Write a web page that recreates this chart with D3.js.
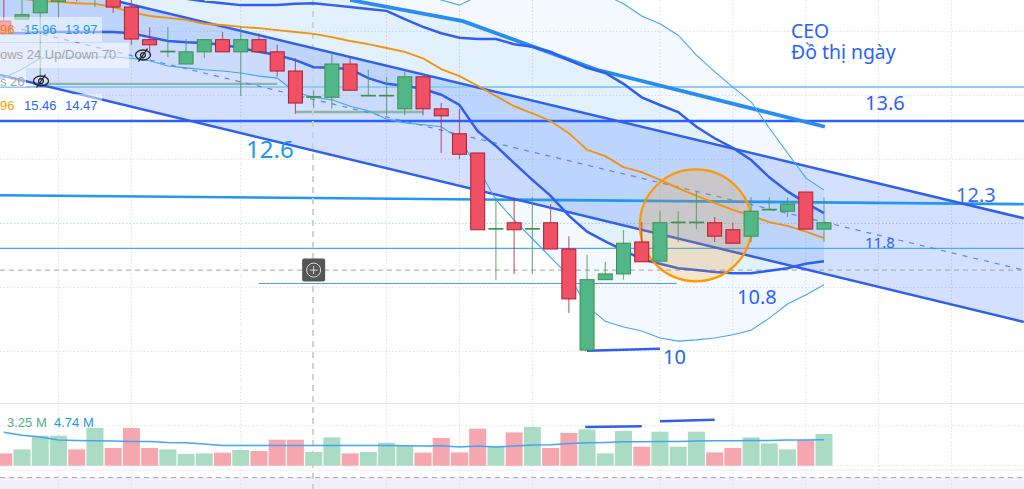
<!DOCTYPE html>
<html><head><meta charset="utf-8">
<script src="https://cdnjs.cloudflare.com/ajax/libs/d3/7.8.5/d3.min.js"></script>
<style>html,body{margin:0;padding:0;background:#fff;overflow:hidden}svg{display:block}</style>
</head><body><svg id="c" width="1024" height="489"></svg>
<script>
// ---------- data ----------
const open  = [15.16,15.19,15.29,15.47,15.72,15.60,15.65,15.38,14.87,14.68,14.49,14.68,14.87,14.68,14.87,14.68,14.38,13.97,13.97,14.49,13.99,13.99,13.79,14.29,13.79,13.40,13.10,11.91,12.01,11.91,12.01,11.60,10.02,11.12,11.21,11.71,11.41,12.01,12.01,12.01,11.90,11.80,12.21,12.19,12.49,11.91];
const high  = [15.49,15.54,15.60,15.72,15.80,15.85,15.72,15.49,15.07,15.07,14.88,14.87,14.99,15.07,14.97,14.79,14.58,14.08,14.66,14.60,14.40,14.29,14.38,14.29,13.88,13.79,13.10,12.41,12.41,12.41,12.30,11.80,11.51,11.40,11.90,12.02,12.19,12.19,12.49,12.10,12.01,12.41,12.41,12.41,12.49,12.41];
const low   = [14.97,15.19,14.24,15.21,15.47,15.38,15.29,14.79,14.68,14.60,14.49,14.58,14.68,13.99,14.68,14.29,13.71,13.80,13.79,14.08,13.99,13.69,13.69,13.69,13.10,13.01,11.90,11.12,11.21,11.21,11.60,10.60,10.02,11.12,11.12,11.40,11.41,11.71,11.91,11.71,11.69,11.71,12.21,12.10,11.91,11.71];
const close = [14.97,15.26,15.57,15.65,15.62,15.80,15.38,14.88,14.79,14.69,14.68,14.87,14.68,14.87,14.68,14.38,13.88,13.98,14.49,14.08,14.00,14.00,14.29,13.79,13.68,13.08,11.90,11.92,11.90,11.92,11.60,10.82,11.12,11.21,11.69,11.40,12.01,12.02,12.02,11.80,11.69,12.19,12.22,12.30,11.91,12.01];
const volume = [2.46,3.26,6,6,3.26,7.54,3.54,7.54,3.54,3.26,2.34,2.46,2.6,3.14,2.94,5.2,5.2,2.74,5.66,2.46,2.74,4.6,3.94,2.6,5.54,2.66,7.4,3.86,6.66,7.74,3.54,6.54,7.26,2.46,6.94,3.8,6.8,3.8,6.8,2.66,3.54,5.66,4.46,3.26,5.14,6.34];
const volumeMA = [6.67,6.07,5.73,5.14,5.06,5.0,4.94,4.86,4.86,4.66,4.6,4.34,4.06,4.06,4.06,4.06,4.06,4.06,4.06,4.06,4.06,4.06,4.0,3.94,4.0,3.74,3.94,3.74,3.94,4.14,4.2,4.46,4.6,4.66,4.8,4.8,4.86,4.86,4.94,5.0,5.0,5.06,5.06,5.14,5.14,5.2];
const maMid = [14.97,14.97,14.99,14.99,14.99,14.99,14.99,14.97,14.91,14.85,14.83,14.82,14.79,14.74,14.68,14.63,14.55,14.44,14.43,14.41,14.27,14.18,14.15,14.10,14.01,13.85,13.44,13.21,12.94,12.68,12.43,12.12,11.87,11.72,11.58,11.44,11.37,11.30,11.27,11.24,11.22,11.22,11.26,11.30,11.37,11.41];
const maHigh = [15.68,15.66,15.65,15.63,15.62,15.60,15.58,15.57,15.55,15.54,15.51,15.47,15.44,15.41,15.41,15.41,15.43,15.44,15.41,15.38,15.35,15.32,15.19,15.07,14.97,14.90,14.88,14.88,14.80,14.76,14.68,14.55,14.43,14.35,14.18,13.97,13.85,13.74,13.51,13.33,13.18,12.99,12.72,12.50,12.32,12.16];
const innerTop = [15.96,15.96,15.96,15.96,15.96,15.96,15.96,15.96,15.96,15.96,15.96,15.96,15.96,15.96,15.96,15.96,15.96,15.96,15.96,15.49,15.43,15.38,15.32,15.27,15.21,15.16,15.07,14.97,14.88,14.79,14.71,14.60,14.46,14.35,14.18,13.97,13.85,13.74,13.51,13.33,13.18,12.99,12.72,12.50,12.32,12.16];
const bbUpper = [15.96,15.96,15.96,15.96,15.96,15.96,15.96,15.96,15.96,15.96,15.96,15.96,15.96,15.96,15.96,15.96,15.96,15.96,15.96,15.96,15.96,15.80,15.68,15.57,15.49,15.41,15.55,15.68,15.77,15.80,15.80,15.72,15.65,15.57,15.43,15.24,15.12,14.94,14.63,14.37,14.13,13.90,13.49,13.10,12.71,12.52];
const bbLower = [14.27,14.41,14.58,14.60,14.60,14.60,14.60,14.58,14.54,14.46,14.43,14.40,14.38,14.35,14.30,14.27,14.05,13.97,13.93,13.83,13.76,13.63,13.57,13.54,13.51,13.32,12.87,12.37,12.05,11.76,11.47,11.18,10.71,10.47,10.38,10.32,10.21,10.16,10.18,10.21,10.26,10.33,10.52,10.74,10.88,11.04];
const maOrange = [15.54,15.51,15.47,15.46,15.44,15.43,15.38,15.30,15.24,15.21,15.18,15.12,15.10,15.07,15.05,15.02,14.99,14.96,14.91,14.85,14.80,14.74,14.68,14.58,14.41,14.30,14.15,13.99,13.83,13.72,13.60,13.41,13.15,13.05,12.88,12.80,12.68,12.55,12.43,12.32,12.21,12.12,12.02,11.96,11.87,11.77];
const channelUpper = [[-0.21,15.91],[55.96,12.08]];
const channelLower = [[-0.21,14.32],[55.96,10.46]];
const channelMid   = [[-0.21,15.115],[55.96,11.27]];
const trendThick   = [[19,15.49],[25.19,15.16],[32.54,14.40],[45.05,13.51]];
const slopedLevel  = [[-0.21,12.44],[55.96,12.30]];
const handDrawn    = [[[32,10.01],[36,10.04]],[[31.9,8.82],[35,8.83]],[[36,8.91],[39,8.93]]];
const levelPrices  = {strong:13.6, pale:14.13, thin:11.61, crosshair:11.27};
const shortLevels  = [[14,36.93,11.06]];
const greyLevels   = [[2.26,15,14.18],[16,23,13.74]];
const circleCentre = [37.97,11.97];
const crosshairIndex = 17;
const priceTicks = [15,14,13,12,11,10];
const timeTicks  = [3,7,13,17,21,25,29,36,40,44,48,52];
const volumeGrid = [8,0];

// ---------- scales ----------
const W=1024,H=489;
const x=d3.scaleLinear().domain([0,45]).range([3.8,824]);
const y=d3.scaleLinear().domain([15.49,7.85]).range([0,489]);
const yv=d3.scaleLinear().domain([0,10]).range([465.7,415.7]);
const svg=d3.select('#c');

// pane background + frame
svg.append('rect').attr('x',0).attr('y',478).attr('width',W).attr('height',11).attr('fill','#f0eef8');
[[403.5,'#e8e8e8'],[470,'#eeeeee']].forEach(d=>svg.append('line').attr('x1',0).attr('x2',W).attr('y1',d[0]).attr('y2',d[0]).attr('stroke',d[1]).attr('stroke-width',1.2));
svg.append('line').attr('x1',0).attr('x2',W).attr('y1',477.5).attr('y2',477.5).attr('stroke','#aaa').attr('stroke-dasharray','5 4');

// grid
const grid=svg.append('g');
grid.selectAll('.h').data(priceTicks).join('line').attr('x1',0).attr('x2',W).attr('y1',d=>y(d)).attr('y2',d=>y(d))
  .attr('stroke',d=>d===12?'#b4d8c8':'#e0e0e0').attr('stroke-dasharray','1.5 2');
grid.selectAll('.v').data(volumeGrid).join('line').attr('x1',0).attr('x2',W).attr('y1',d=>yv(d)).attr('y2',d=>yv(d))
  .attr('stroke','#e0e0e0').attr('stroke-dasharray','1.5 2');
grid.selectAll('.t').data(timeTicks.filter(d=>d!==crosshairIndex)).join('line').attr('y1',0).attr('y2',H).attr('x1',d=>x(d)).attr('x2',d=>x(d))
  .attr('stroke','#e0e0e0').attr('stroke-dasharray','1.5 2');

// series helpers (each series is held flat one step to the left so it reaches the window edge)
const led=a=>[[-1,a[0]]].concat(a.map((v,i)=>[i,v]));
const line=d3.line().x(d=>x(d[0])).y(d=>y(d[1]));
const between=(a,b)=>d3.area().x(d=>x(d[0])).y0(d=>y(d[1])).y1((d,i)=>y(led(b)[i][1]))(led(a));

// fills
svg.append('path').attr('d',between(bbUpper,bbLower)).attr('fill','rgba(33,150,243,.055)');
svg.append('path').attr('d',between(innerTop,maMid)).attr('fill','rgba(33,150,243,.08)');
svg.append('path').attr('d',d3.area().x(d=>x(d[0])).y0(d=>y(d[1])).y1((d,i)=>y(channelLower[i][1]))(channelUpper)).attr('fill','rgba(41,98,255,.2)');

// levels
const hl=(p,c,w,extra)=>{const s=svg.append('line').attr('x1',0).attr('x2',W).attr('y1',y(p)).attr('y2',y(p)).attr('stroke',c).attr('stroke-width',w);if(extra)s.attr('stroke-dasharray',extra);return s;};
hl(levelPrices.pale,'#90caf9',2);
hl(levelPrices.strong,'#2962ff',2.6);
hl(levelPrices.thin,'#4aa8f5',1.2);
shortLevels.forEach(d=>svg.append('line').attr('x1',x(d[0])).attr('x2',x(d[1])).attr('y1',y(d[2])).attr('y2',y(d[2])).attr('stroke','#4a9fe0').attr('stroke-width',1));
svg.append('path').attr('d',line(slopedLevel)).attr('fill','none').attr('stroke','#2196f3').attr('stroke-width',2.6);
greyLevels.forEach(d=>svg.append('line').attr('x1',x(d[0])).attr('x2',x(d[1])).attr('y1',y(d[2])).attr('y2',y(d[2])).attr('stroke','#8fb5a5').attr('stroke-width',2.4));
hl(levelPrices.crosshair,'#a0a0a0',1,'5 4');
svg.append('line').attr('x1',x(crosshairIndex)-.7).attr('x2',x(crosshairIndex)-.7).attr('y1',0).attr('y2',H).attr('stroke','#cfcfcf').attr('stroke-width',2).attr('stroke-dasharray','6 5');

// channel
svg.append('path').attr('d',line(channelMid)).attr('fill','none').attr('stroke','#5b84f5').attr('stroke-width',1.2).attr('stroke-dasharray','5 6');
[channelUpper,channelLower].forEach(c=>svg.append('path').attr('d',line(c)).attr('fill','none').attr('stroke','#2f5fef').attr('stroke-width',2.5));
svg.append('path').attr('d',line(trendThick)).attr('fill','none').attr('stroke','#2a8cf0').attr('stroke-width',3.8);

// bands and averages
[bbUpper,bbLower].forEach(a=>svg.append('path').attr('d',line(led(a))).attr('fill','none').attr('stroke','#42a5f5').attr('stroke-width',1.1));
svg.append('path').attr('d',line(led(maOrange))).attr('fill','none').attr('stroke','#f2930a').attr('stroke-width',1.9);
[maMid,maHigh].forEach(a=>svg.append('path').attr('d',line(led(a))).attr('fill','none').attr('stroke','#2f5fef').attr('stroke-width',2.5));
handDrawn.forEach(d=>svg.append('path').attr('d',line(d)).attr('fill','none').attr('stroke','#2f5fef').attr('stroke-width',2.5));

// circle
svg.append('circle').attr('cx',x(circleCentre[0])).attr('cy',y(circleCentre[1])).attr('r',56)
  .attr('fill','rgba(255,152,0,.2)').attr('stroke','#ff9800').attr('stroke-width',2.2);

// candles
const idx=d3.range(open.length);
const up=i=>close[i]>=open[i];
const cg=svg.append('g');
cg.selectAll('.w').data(idx).join('line').attr('x1',x).attr('x2',x).attr('y1',i=>y(high[i])).attr('y2',i=>y(low[i]))
  .attr('stroke',i=>up(i)?'#4f9a58':'#b23a4a').attr('stroke-opacity',.75).attr('stroke-width',1.2);
cg.selectAll('.b').data(idx).join('rect').attr('x',i=>x(i)-7).attr('width',14)
  .attr('y',i=>y(Math.max(open[i],close[i])))
  .attr('height',i=>Math.abs(y(open[i])-y(close[i])))
  .attr('fill',i=>up(i)?'#52b788':'#ef5064').attr('stroke',i=>up(i)?'#3f8f4a':'#b01e2c').attr('stroke-width',1);

// volume
svg.append('g').selectAll('rect').data(idx).join('rect').attr('x',i=>x(i)-8.5).attr('width',17)
  .attr('y',i=>yv(volume[i])).attr('height',i=>yv(0)-yv(volume[i]))
  .attr('fill',i=>up(i)?'#aadcc3':'#f6a6ae');
svg.append('path').attr('d',d3.line().x((d,i)=>x(i)).y(d=>yv(d))(volumeMA)).attr('fill','none').attr('stroke','#42a5f5').attr('stroke-width',1.5);

// legend plates
[[0,17,102,25],[0,43,129,25],[0,68,26,19],[0,94,102,19]].forEach(r=>svg.append('rect').attr('x',r[0]).attr('y',r[1]).attr('width',r[2]).attr('height',r[3]).attr('fill','rgba(255,255,255,.5)'));

// legend text
const LF='"Liberation Sans",Arial,sans-serif', AF='"Noto Sans",sans-serif';
const label=(s,px,py,c,sz,f)=>svg.append('text').attr('x',px).attr('y',py).attr('fill',c).attr('font-size',sz).attr('font-family',f||LF).text(s);
label('96',0,34,'#f57c00',13);label('15.96',24,34,'#2196f3',13);label('13.97',65,34,'#2196f3',13);
label('ows 24 Up/Down 70',0,59,'#a6a6a6',13);
label('s 26',0,86,'#a6a6a6',13);
label('96',0,110,'#ffa000',13);label('15.46',24,110,'#2962ff',13);label('14.47',65,110,'#2962ff',13);
label('3.25 M',7,427,'#4cb483',13);label('4.74 M',54,427,'#2196f3',13);

// annotations
const note=svg.append('text').attr('fill','#2962ff').attr('font-family',AF).attr('font-size',19.4);
note.append('tspan').attr('x',791).attr('y',38).text('CEO');
note.append('tspan').attr('x',791).attr('y',59).text('Đồ thị ngày');
label('13.6',865,110,'#2962ff',20,AF);
label('12.3',956,202,'#2f6fef',20,AF);
label('11.8',865,248,'#2962ff',15,AF);
label('10.8',737,304,'#2962ff',20,AF);
label('10',663,364,'#2962ff',20,AF);
label('12.6',246,158,'#2196f3',24,AF);

// hidden-drawing markers
[[143,55],[41,81]].forEach(p=>{const g=svg.append('g').attr('transform',`translate(${p[0]},${p[1]})`).attr('fill','none').attr('stroke','#222').attr('stroke-width',1.3);
  g.append('ellipse').attr('rx',7.5).attr('ry',5);g.append('circle').attr('r',2.4);g.append('line').attr('x1',-4.5).attr('y1',6.5).attr('x2',4.5).attr('y2',-6.5);});

// crosshair button
const b=svg.append('g').attr('transform',`translate(${x(crosshairIndex)},${y(levelPrices.crosshair)})`);
b.append('rect').attr('x',-11.5).attr('y',-11.5).attr('width',23).attr('height',23).attr('rx',2).attr('fill','#555');
b.append('circle').attr('r',7).attr('fill','none').attr('stroke','#ddd').attr('stroke-width',1);
b.append('path').attr('d','M-4 0H4M0 -4V4').attr('stroke','#ddd').attr('stroke-width',1);
</script></body></html>
